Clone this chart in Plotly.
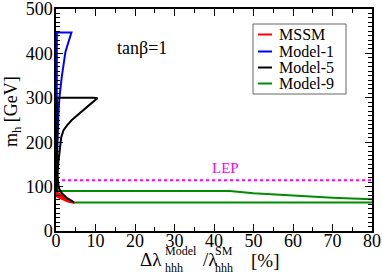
import plotly.graph_objects as go

# ---------------- data ----------------
mssm_x = [0, 1, 2, 3, 4, 4.5, 4.5, 3, 2, 1, 0, 0]
mssm_y = [88, 84, 77, 71, 66.5, 64.5, 63, 66, 70, 74, 78, 88]

model1_x = [0.2, 0.2, 3.9, 3.3, 2.4, 1.5, 0.85, 0.55, 0.35, 0.22, 0.15]
model1_y = [120, 447, 447, 430, 404, 350, 300, 250, 200, 150, 120]

model5_x = [0.2, 0.2, 9.5, 10.5, 9.0, 7.0, 5.5, 4.0, 2.8, 1.9, 1.3, 0.9, 0.55, 0.4, 0.5, 0.8, 1.5, 2.8, 4.5]
model5_y = [90, 300, 300, 299, 288, 272, 262, 250, 238, 227, 210, 182, 150, 130, 110, 95, 85, 74, 65]

model9_up_x = [0, 44, 50, 60, 70, 80]
model9_up_y = [90, 90, 85, 79.5, 75, 71.5]
model9_lo_x = [4.4, 80]
model9_lo_y = [64, 64]

lep_x = [0, 80]
lep_y = [114.4, 114.4]

x_ticks = [0, 10, 20, 30, 40, 50, 60, 70, 80]
y_ticks = [0, 100, 200, 300, 400, 500]

legend_names = ["MSSM", "Model-1", "Model-5", "Model-9"]
legend_colors = ["#ff0000", "#0000ff", "#000000", "#008b00"]

FONT = "Liberation Serif"

fig = go.Figure()

fig.add_trace(go.Scatter(x=model9_up_x, y=model9_up_y, mode="lines",
                         line=dict(color=legend_colors[3], width=2), showlegend=False))
fig.add_trace(go.Scatter(x=model9_lo_x, y=model9_lo_y, mode="lines",
                         line=dict(color=legend_colors[3], width=2), showlegend=False))
fig.add_trace(go.Scatter(x=lep_x, y=lep_y, mode="lines",
                         line=dict(color="#ff00ff", width=2, dash="dot"), showlegend=False))
fig.add_trace(go.Scatter(x=model1_x, y=model1_y, mode="lines",
                         line=dict(color=legend_colors[1], width=2), showlegend=False))
fig.add_trace(go.Scatter(x=mssm_x, y=mssm_y, mode="lines", fill="toself",
                         fillcolor=legend_colors[0],
                         line=dict(color=legend_colors[0], width=1.5), showlegend=False))
fig.add_trace(go.Scatter(x=model5_x, y=model5_y, mode="lines",
                         line=dict(color=legend_colors[2], width=2), showlegend=False))

# plot-area geometry in pixels
W, H = 382, 274
L, R, T, B = 56, 372, 9, 231


def px(x):
    return (x - L) / (R - L)


def py(y):
    return (B - y) / (B - T)


shapes = []
annotations = []

# manual legend box
shapes.append(dict(type="rect", xref="paper", yref="paper",
                   x0=px(253), x1=px(346), y0=py(94), y1=py(24),
                   line=dict(color="#666666", width=1), fillcolor="white", layer="above"))
rows = [34.5, 51.5, 67.5, 83.5]
for name, col, ry in zip(legend_names, legend_colors, rows):
    shapes.append(dict(type="line", xref="paper", yref="paper",
                       x0=px(258), x1=px(272), y0=py(ry), y1=py(ry),
                       line=dict(color=col, width=2), layer="above"))
    annotations.append(dict(text=name, xref="paper", yref="paper",
                            x=px(277), y=py(ry), xanchor="left", yanchor="middle",
                            showarrow=False, font=dict(family=FONT, size=16, color="black")))

# in-plot texts
annotations.append(dict(text="tanβ=1", xref="x", yref="y", x=15, y=412,
                        xanchor="left", yanchor="middle", showarrow=False,
                        font=dict(family=FONT, size=18, color="black")))
annotations.append(dict(text="LEP", xref="x", yref="y", x=43, y=142,
                        xanchor="center", yanchor="middle", showarrow=False,
                        font=dict(family=FONT, size=15, color="#ff00ff")))

# y-axis title
annotations.append(dict(text="m<sub>h</sub> [GeV]", xref="paper", yref="paper",
                        x=px(12), y=py(112), xanchor="center", yanchor="middle",
                        textangle=-90, showarrow=False,
                        font=dict(family=FONT, size=18, color="black")))


# x-axis title with stacked super/subscripts
def ann(text, xpix, ypix, size, anchor="left"):
    annotations.append(dict(text=text, xref="paper", yref="paper",
                            x=px(xpix), y=py(ypix), xanchor=anchor, yanchor="middle",
                            showarrow=False, font=dict(family=FONT, size=size, color="black")))


ann("Δλ", 164, 259, 19, "right")
ann("Model", 163, 251, 12)
ann("hhh", 163, 268, 12)
ann("/λ", 201, 259, 19)
ann("SM", 213, 251, 12)
ann("hhh", 213, 268, 12)
ann("[%]", 249, 260, 19)

fig.update_layout(
    width=W, height=H,
    margin=dict(l=L, r=W - R, t=T, b=H - B, autoexpand=False),
    paper_bgcolor="white", plot_bgcolor="white",
    showlegend=False,
    shapes=shapes, annotations=annotations,
    font=dict(family=FONT, size=18, color="black"),
)
fig.update_xaxes(range=[0, 80], tickvals=x_ticks, ticktext=[str(v) for v in x_ticks],
                 ticks="inside", ticklen=7, tickwidth=1, tickcolor="black",
                 minor=dict(dtick=5, ticks="inside", ticklen=4, tickcolor="black", tickwidth=1),
                 showline=True, linecolor="black", linewidth=1.5, mirror="allticks",
                 showgrid=False, zeroline=False, automargin=False,
                 ticklabeloverflow="allow", ticklabelstandoff=-7,
                 tickfont=dict(family=FONT, size=18, color="black"))
fig.update_yaxes(range=[0, 500], tickvals=y_ticks, ticktext=[str(v) for v in y_ticks],
                 ticks="inside", ticklen=7, tickwidth=1, tickcolor="black",
                 minor=dict(dtick=10, ticks="inside", ticklen=4, tickcolor="black", tickwidth=1),
                 showline=True, linecolor="black", linewidth=1.5, mirror="allticks",
                 showgrid=False, zeroline=False, automargin=False,
                 ticklabeloverflow="allow", ticklabelstandoff=-2,
                 tickfont=dict(family=FONT, size=18, color="black"))

fig.write_html("out.html", config={"displayModeBar": False},
               post_script="document.body.style.margin='0px';document.body.style.overflow='hidden';")
